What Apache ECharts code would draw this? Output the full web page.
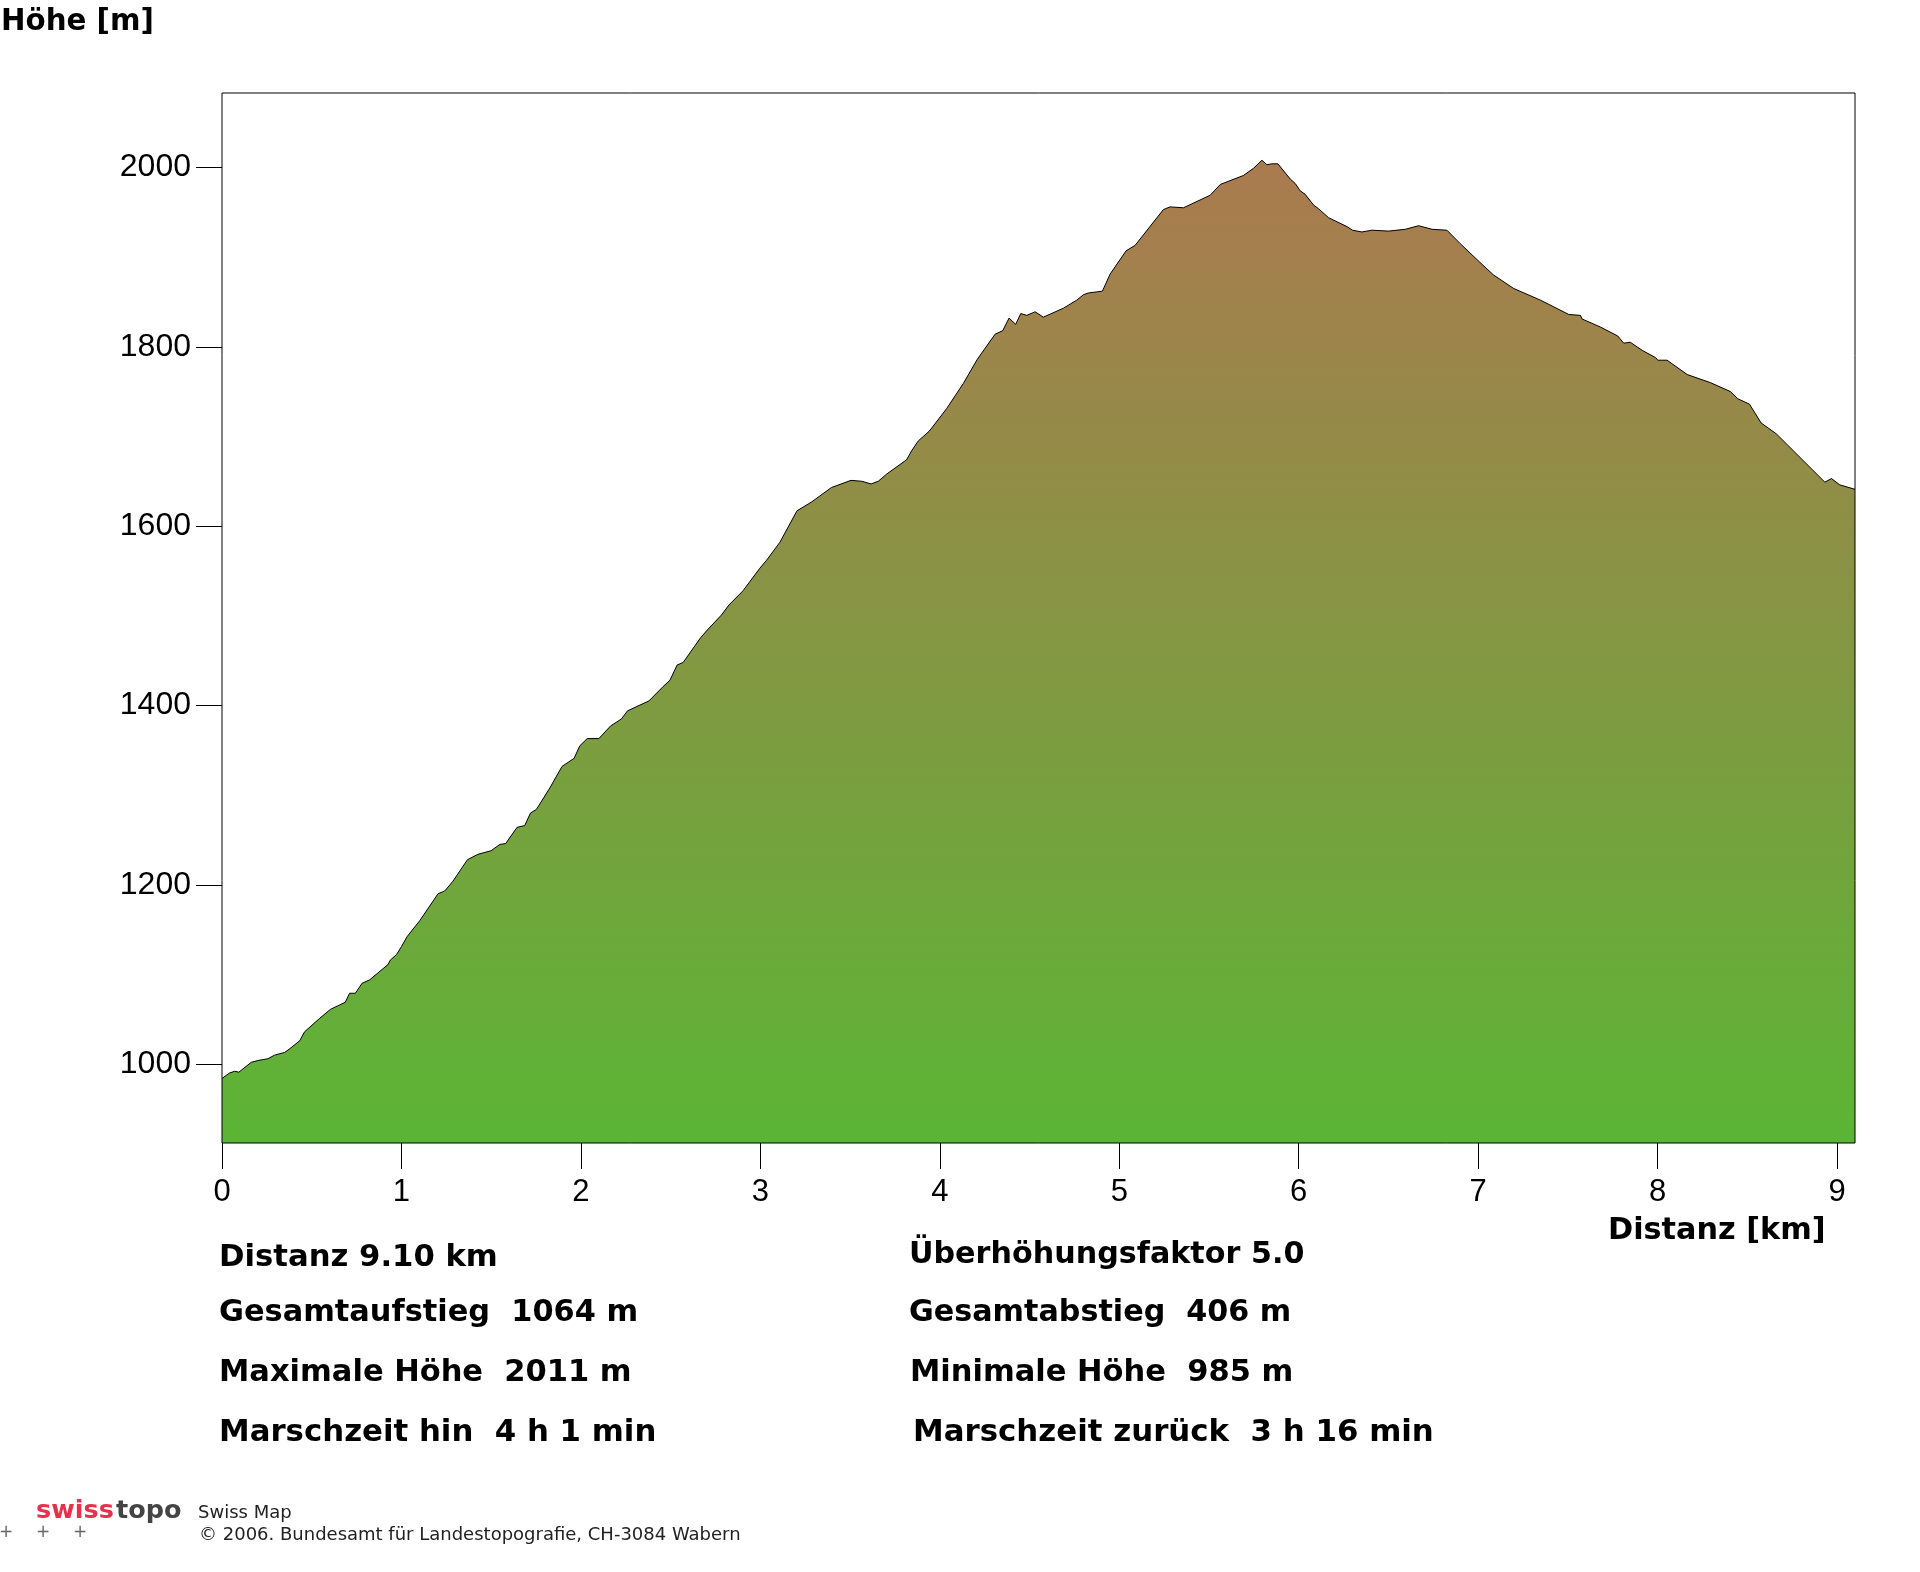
<!DOCTYPE html>
<html>
<head>
<meta charset="utf-8">
<title>Höhenprofil</title>
<script src="https://cdn.jsdelivr.net/npm/echarts@6/dist/echarts.min.js"></script>
<style>
  html, body { margin: 0; padding: 0; background: #fff; }
  #main { width: 1920px; height: 1572px; }
</style>
</head>
<body>
<div id="main"></div>
<script>
// profile
const distanceKm = [
  0, 0.042, 0.07, 0.094, 0.163, 0.2, 0.256, 0.293, 0.349, 0.377, 0.433, 0.46, 0.544, 0.604, 0.687, 0.711, 0.743, 0.78, 0.823, 0.925,
  0.938, 0.972, 1.0, 1.031, 1.102, 1.204, 1.241, 1.287, 1.368, 1.427, 1.5, 1.548, 1.581, 1.644, 1.687, 1.719, 1.752, 1.827, 1.895, 1.962,
  1.994, 2.035, 2.1, 2.165, 2.226, 2.26, 2.379, 2.458, 2.496, 2.536, 2.57, 2.669, 2.704, 2.784, 2.825, 2.904, 2.997, 3.035, 3.109, 3.204,
  3.286, 3.396, 3.505, 3.565, 3.617, 3.657, 3.704, 3.815, 3.843, 3.88, 3.942, 4.038, 4.131, 4.209, 4.308, 4.351, 4.386, 4.423, 4.451, 4.485,
  4.531, 4.577, 4.689, 4.763, 4.8, 4.828, 4.906, 4.949, 5.038, 5.088, 5.246, 5.283, 5.358, 5.507, 5.563, 5.692, 5.748, 5.795, 5.823, 5.851,
  5.884, 5.953, 5.981, 6.008, 6.036, 6.083, 6.11, 6.166, 6.269, 6.3, 6.352, 6.408, 6.501, 6.594, 6.668, 6.743, 6.826, 6.9, 7.021, 7.086,
  7.198, 7.347, 7.505, 7.57, 7.579, 7.681, 7.778, 7.811, 7.848, 7.914, 7.988, 8.001, 8.053, 8.165, 8.294, 8.406, 8.447, 8.512, 8.577, 8.661,
  8.932, 8.969, 9.015, 9.1
];
const elevationM = [
  984, 990, 992, 991, 1002, 1004, 1006, 1010, 1013, 1017, 1026, 1036, 1051, 1061, 1069, 1079, 1079, 1090, 1094, 1111,
  1116, 1122, 1131, 1142, 1160, 1190, 1193, 1204, 1228, 1234, 1238, 1245, 1246, 1264, 1266, 1280, 1284, 1308, 1332, 1341,
  1355, 1363, 1363, 1377, 1385, 1394, 1405, 1421, 1428, 1445, 1448, 1476, 1484, 1501, 1512, 1528, 1553, 1562, 1582, 1617,
  1627, 1643, 1651, 1650, 1647, 1650, 1658, 1674, 1684, 1695, 1706, 1731, 1759, 1786, 1814, 1818, 1832, 1825, 1837, 1835,
  1839, 1833, 1843, 1852, 1858, 1860, 1862, 1881, 1907, 1913, 1953, 1956, 1955, 1969, 1981, 1991, 1999, 2008, 2003, 2004,
  2004, 1987, 1982, 1974, 1970, 1958, 1954, 1944, 1934, 1930, 1928, 1930, 1929, 1931, 1935, 1931, 1930, 1915, 1892, 1880,
  1865, 1852, 1836, 1835, 1831, 1822, 1812, 1804, 1805, 1796, 1788, 1785, 1785, 1769, 1760, 1750, 1742, 1736, 1715, 1703,
  1649, 1653, 1646, 1641
];
const xTicks = [0, 1, 2, 3, 4, 5, 6, 7, 8, 9];
const yTicks = [1000, 1200, 1400, 1600, 1800, 2000];

const yTitle = 'Höhe [m]';
const xTitle = 'Distanz [km]';
const infoLeft = ['Distanz 9.10 km', 'Gesamtaufstieg  1064 m', 'Maximale Höhe  2011 m', 'Marschzeit hin  4 h 1 min'];
const infoRight = ['Überhöhungsfaktor 5.0', 'Gesamtabstieg  406 m', 'Minimale Höhe  985 m', 'Marschzeit zurück  3 h 16 min'];

const smallFont = '18px "DejaVu Sans"';
const logoFont = 'bold 25.5px "DejaVu Sans"';
const bold = size => 'bold ' + size + 'px "DejaVu Sans"';

function label(x, y, text, font, fill) {
  return { type: 'text', x: x, y: y, style: { text: text, font: font, fill: fill || '#000', verticalAlign: 'middle' } };
}

const rowY = [1258, 1313, 1373, 1433];
const rowYRight = [1255, 1313, 1373, 1433];
const rightX = [909, 909, 910, 913];
const sizeLeft = [30.7, 30.4, 30.5, 30.8];
const sizeRight = [30.2, 30.2, 30.5, 30.85];

const elements = [
  label(1, 22, yTitle, bold(29.3)),
  label(1608, 1231, xTitle, bold(30.3))
];
infoLeft.forEach((t, i) => elements.push(label(219, rowY[i], t, bold(sizeLeft[i]))));
infoRight.forEach((t, i) => elements.push(label(rightX[i], rowYRight[i], t, bold(sizeRight[i]))));
// swisstopo footer
elements.push(label(36, 1511, 'swiss', logoFont, '#e8304a'));
elements.push(label(116, 1511, 'topo', logoFont, '#444'));
elements.push(label(198, 1513, 'Swiss Map', smallFont, '#222'));
elements.push(label(199, 1535, '© 2006. Bundesamt für Landestopografie, CH-3084 Wabern', smallFont, '#222'));
[6, 43, 80].forEach(x => elements.push({
  type: 'text', x: x, y: 1533,
  style: { text: '+', font: '17px "DejaVu Sans"', fill: '#666', align: 'center', verticalAlign: 'middle' }
}));

const myChart = echarts.init(document.getElementById('main'), null, { renderer: 'canvas' });
myChart.setOption({
  animation: false,
  backgroundColor: '#fff',
  grid: {
    show: true, z: 5, left: 222, top: 93, width: 1633, height: 1050,
    borderColor: '#000', borderWidth: 1, backgroundColor: 'transparent'
  },
  xAxis: {
    type: 'value', min: 0, max: 9.1,
    splitLine: { show: false },
    axisLine: { show: false },
    axisTick: { show: true, length: 26, customValues: xTicks, lineStyle: { color: '#000', width: 1 } },
    axisLabel: { customValues: xTicks, margin: 34, color: '#000', fontFamily: 'Liberation Sans', fontSize: 31, formatter: v => String(v) }
  },
  yAxis: {
    type: 'value', min: 912, max: 2083,
    splitLine: { show: false },
    axisLine: { show: false },
    axisTick: { show: true, length: 26, customValues: yTicks, lineStyle: { color: '#000', width: 1 } },
    axisLabel: { customValues: yTicks, margin: 31, color: '#000', fontFamily: 'Liberation Sans', fontSize: 32, formatter: v => String(v) }
  },
  series: [{
    type: 'line',
    data: distanceKm.map((d, i) => [d, elevationM[i]]),
    symbol: 'none',
    smooth: false,
    lineStyle: { color: '#000', width: 1 },
    areaStyle: {
      opacity: 1,
      color: new echarts.graphic.LinearGradient(0, 0, 0, 1, [
        { offset: 0, color: '#ab7a4f' },
        { offset: 1, color: '#5bb535' }
      ])
    }
  }],
  graphic: { elements: elements }
});
window.onresize = myChart.resize;
</script>
</body>
</html>
